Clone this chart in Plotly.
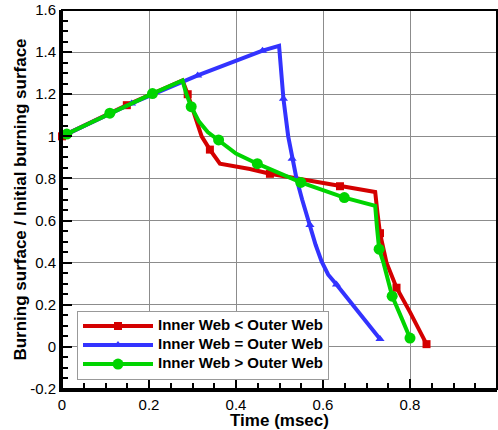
import plotly.graph_objects as go

# Burning-surface ratio vs. time for three web configurations
red_t = [0.0, 0.149, 0.277, 0.289, 0.321, 0.340, 0.363, 0.400, 0.432, 0.478, 0.639, 0.720, 0.725, 0.731, 0.746, 0.769, 0.800, 0.838]
red_v = [1.0, 1.148, 1.265, 1.200, 1.000, 0.937, 0.870, 0.857, 0.845, 0.822, 0.763, 0.736, 0.640, 0.540, 0.400, 0.281, 0.165, 0.013]
red_marks = [0, 1, 3, 5, 9, 10, 13, 15, 17]

blue_t = [0.0, 0.160, 0.312, 0.461, 0.499, 0.502, 0.509, 0.520, 0.529, 0.539, 0.552, 0.566, 0.570, 0.583, 0.597, 0.612, 0.631, 0.731]
blue_v = [1.0, 1.156, 1.289, 1.407, 1.430, 1.350, 1.179, 1.000, 0.893, 0.800, 0.700, 0.600, 0.579, 0.485, 0.405, 0.343, 0.296, 0.037]
blue_marks = [1, 2, 3, 6, 8, 12, 16, 17]

green_t = [0.011, 0.110, 0.208, 0.277, 0.286, 0.297, 0.315, 0.335, 0.360, 0.400, 0.449, 0.549, 0.649, 0.720, 0.724, 0.729, 0.739, 0.759, 0.780, 0.800]
green_v = [1.011, 1.110, 1.203, 1.265, 1.200, 1.141, 1.070, 1.020, 0.983, 0.918, 0.870, 0.781, 0.709, 0.670, 0.570, 0.464, 0.400, 0.241, 0.140, 0.042]
green_marks = [0, 1, 2, 5, 8, 10, 11, 12, 15, 17, 19]

x_ticks = [0, 0.2, 0.4, 0.6, 0.8, 1.0]
x_tick_text = ["0", "0.2", "0.4", "0.6", "0.8", "1"]
y_ticks = [-0.2, 0, 0.2, 0.4, 0.6, 0.8, 1.0, 1.2, 1.4, 1.6]
y_tick_text = ["-0.2", "0", "0.2", "0.4", "0.6", "0.8", "1", "1.2", "1.4", "1.6"]

FONT = "Arial, Liberation Sans, sans-serif"

series = [
    ("Inner Web &lt; Outer Web", red_t, red_v, red_marks, "#d40000", "square", 8),
    ("Inner Web = Outer Web", blue_t, blue_v, blue_marks, "#3333ff", "triangle-up", 8),
    ("Inner Web &gt; Outer Web", green_t, green_v, green_marks, "#00d400", "circle", 11),
]

fig = go.Figure()
for name, t, v, marks, color, symbol, size in series:
    fig.add_trace(go.Scatter(
        x=t, y=v, mode="lines", line=dict(color=color, width=4),
        showlegend=False, hoverinfo="skip", cliponaxis=False,
    ))
    fig.add_trace(go.Scatter(
        x=[t[i] for i in marks], y=[v[i] for i in marks], mode="markers",
        marker=dict(color=color, symbol=symbol, size=size),
        showlegend=False, cliponaxis=False,
    ))
    # legend entry (larger text inside a compact row)
    fig.add_trace(go.Scatter(
        x=[None], y=[None], mode="lines+markers",
        name="<span style='font-size:15px'>" + name + "</span>",
        line=dict(color=color, width=4),
        marker=dict(color=color, symbol=symbol, size=size),
    ))

axis_common = dict(
    showgrid=True, gridcolor="#8c8c8c", gridwidth=1,
    zeroline=False, showline=True, linecolor="black", linewidth=3,
    ticks="inside", ticklen=10, tickwidth=2, tickcolor="black",
    tickfont=dict(family=FONT, size=15, color="black"),
    minor=dict(ticks="inside", ticklen=6, tickwidth=1.5, tickcolor="black", dtick=0.05, showgrid=False),
)

fig.update_xaxes(
    range=[0, 1], tickvals=x_ticks, ticktext=x_tick_text,
    title=dict(text="<b>Time (msec)</b>", font=dict(family=FONT, size=17, color="black"), standoff=4),
    **axis_common,
)
fig.update_yaxes(
    range=[-0.2, 1.6], tickvals=y_ticks, ticktext=y_tick_text,
    title=dict(text="<b>Burning surface / Initial burning surface</b>", font=dict(family=FONT, size=17, color="black"), standoff=0),
    **axis_common,
)

fig.add_shape(type="rect", xref="paper", yref="paper", x0=0, y0=0, x1=1, y1=1,
              line=dict(color="black", width=2), layer="above")

fig.update_layout(
    width=498, height=430,
    margin=dict(l=62, r=1, t=10, b=38),
    plot_bgcolor="white", paper_bgcolor="white",
    font=dict(family=FONT, color="black"),
    legend=dict(
        x=0.0345, y=0.207, xanchor="left", yanchor="top",
        bgcolor="white", bordercolor="#999999", borderwidth=1,
        font=dict(family=FONT, size=11, color="black", weight="bold"),
        itemwidth=70, tracegroupgap=0,
    ),
)

fig.write_html("out.html")
